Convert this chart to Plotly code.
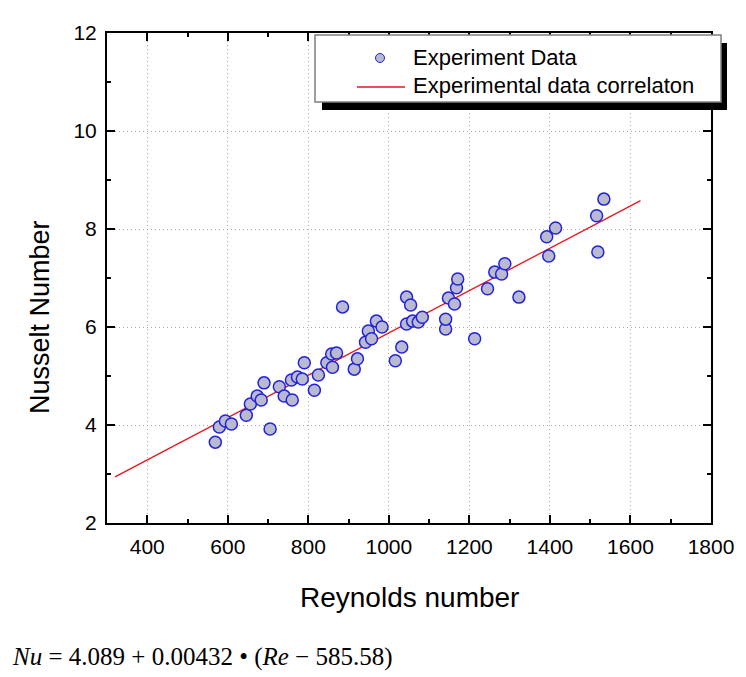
import plotly.graph_objects as go

# ---- data ----
reynolds = [569, 579, 594, 609, 646, 656, 673, 683, 690, 705, 728, 740, 760, 758, 773,
            785, 790, 815, 825, 846, 858, 860, 870, 885, 914, 922, 942, 949, 957, 969,
            983, 1016, 1032, 1044, 1044, 1054, 1059, 1073, 1083, 1141, 1141, 1148, 1163,
            1168, 1171, 1213, 1245, 1263, 1280, 1288, 1323, 1392, 1397, 1414, 1516, 1519, 1534]
nusselt = [3.65, 3.96, 4.08, 4.02, 4.20, 4.43, 4.59, 4.51, 4.86, 3.92, 4.78, 4.59, 4.51, 4.92, 4.98,
           4.94, 5.27, 4.71, 5.02, 5.27, 5.45, 5.18, 5.47, 6.41, 5.14, 5.35, 5.69, 5.92, 5.76, 6.12,
           6.00, 5.31, 5.59, 6.61, 6.06, 6.45, 6.12, 6.10, 6.20, 5.96, 6.16, 6.59, 6.47,
           6.80, 6.98, 5.76, 6.78, 7.12, 7.08, 7.29, 6.61, 7.84, 7.45, 8.02, 8.27, 7.53, 8.61]
fit_re = [320, 1625]
fit_a, fit_b, fit_re0 = 4.089, 0.00432, 585.58
fit_nu = [fit_a + fit_b * (r - fit_re0) for r in fit_re]

x_ticks = [400, 600, 800, 1000, 1200, 1400, 1600, 1800]
y_ticks = [2, 4, 6, 8, 10, 12]
legend_labels = ["Experiment Data", "Experimental data correlaton"]
x_title = "Reynolds number"
y_title = "Nusselt Number"
formula = "<i>Nu</i> = 4.089 + 0.00432 • (<i>Re</i> − 585.58)"

# ---- layout geometry (pixels in the window; the page body adds an 8px offset) ----
OFF = 8
W, H = 746 - OFF, 677 - OFF
L, R, T, B = 107 - OFF, 711 - OFF, 33 - OFF, 523 - OFF


def px(x):
    return (x - OFF - L) / (R - L)


def py(y):
    return (B - (y - OFF)) / (B - T)


SANS = "Liberation Sans, Arial, sans-serif"
MARK_FILL = "#B9B9CF"
MARK_LINE = "#2222DD"
RED = "#E8141E"

fig = go.Figure()
fig.add_trace(go.Scatter(
    x=fit_re, y=fit_nu, mode="lines", name=legend_labels[1],
    line=dict(color=RED, width=1.3), showlegend=False))
fig.add_trace(go.Scatter(
    x=reynolds, y=nusselt, mode="markers", name=legend_labels[0],
    marker=dict(symbol="circle", size=12, color=MARK_FILL,
                line=dict(color=MARK_LINE, width=1.5)),
    showlegend=False))

axis_common = dict(
    showline=True, linecolor="black", linewidth=2, mirror="ticks",
    ticks="inside", ticklen=8, tickwidth=2, tickcolor="black",
    showgrid=True, gridcolor="#A8A8A8", gridwidth=1, griddash="1px,3px",
    zeroline=False, automargin=False,
    tickfont=dict(family=SANS, size=21, color="black"),
    minor=dict(ticks="inside", ticklen=4, tickwidth=2, tickcolor="black", showgrid=False),
)

fig.update_xaxes(range=[300, 1800], tickvals=x_ticks, minor_dtick=100,
                 ticklabelstandoff=4, **axis_common)
fig.update_yaxes(range=[2, 12], tickvals=y_ticks, minor_dtick=1,
                 ticklabelstandoff=4, **axis_common)

shapes = [
    # legend shadow
    dict(type="rect", xref="paper", yref="paper", layer="above",
         x0=px(322), x1=px(727), y0=py(110), y1=py(43),
         fillcolor="black", line=dict(width=0)),
    # legend box
    dict(type="rect", xref="paper", yref="paper", layer="above",
         x0=px(315), x1=px(721), y0=py(102), y1=py(35),
         fillcolor="white", line=dict(color="#808080", width=1.5)),
    # legend line sample
    dict(type="line", xref="paper", yref="paper", layer="above",
         x0=px(357), x1=px(405), y0=py(87), y1=py(87),
         line=dict(color=RED, width=1.3)),
    # legend marker sample
    dict(type="circle", xref="paper", yref="paper", layer="above",
         xsizemode="pixel", ysizemode="pixel",
         xanchor=px(380), yanchor=py(58), x0=-4.5, x1=4.5, y0=-4.5, y1=4.5,
         fillcolor=MARK_FILL, line=dict(color=MARK_LINE, width=1)),
]

annotations = [
    dict(text=legend_labels[0], xref="paper", yref="paper", x=px(411), y=py(58),
         xanchor="left", yanchor="middle", showarrow=False,
         font=dict(family=SANS, size=22, color="black")),
    dict(text=legend_labels[1], xref="paper", yref="paper", x=px(411), y=py(86),
         xanchor="left", yanchor="middle", showarrow=False,
         font=dict(family=SANS, size=22, color="black")),
    dict(text=x_title, xref="paper", yref="paper", x=px(409), y=py(597),
         xanchor="center", yanchor="middle", showarrow=False,
         font=dict(family=SANS, size=28, color="black")),
    dict(text=y_title, xref="paper", yref="paper", x=px(40), y=py(317),
         xanchor="center", yanchor="middle", showarrow=False, textangle=-90,
         font=dict(family=SANS, size=27, color="black")),
    dict(text=formula, xref="paper", yref="paper", x=px(10), y=py(657),
         xanchor="left", yanchor="middle", showarrow=False,
         font=dict(family="Liberation Serif, Times New Roman, serif", size=25, color="black")),
]

fig.update_layout(
    width=W, height=H,
    margin=dict(l=L, r=W - R, t=T, b=H - B, pad=0),
    paper_bgcolor="white", plot_bgcolor="white",
    showlegend=False,
    shapes=shapes, annotations=annotations,
)

fig.write_html("out.html")
